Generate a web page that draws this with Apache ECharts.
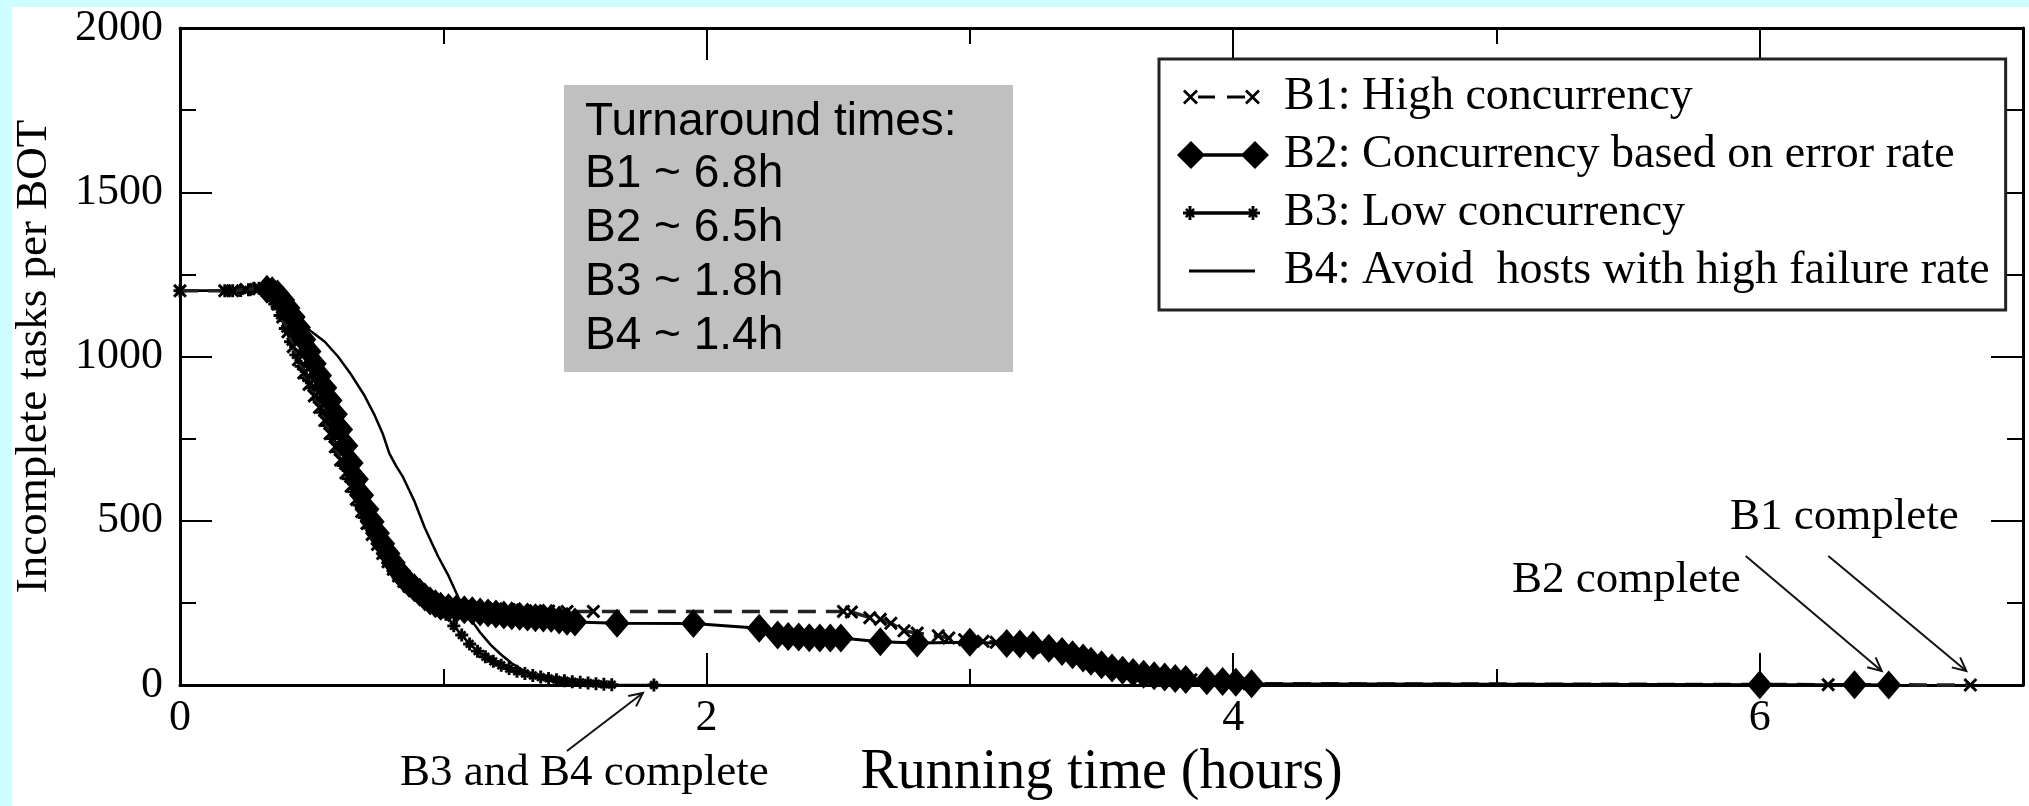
<!DOCTYPE html>
<html><head><meta charset="utf-8">
<script src="https://cdn.jsdelivr.net/npm/echarts@6/dist/echarts.min.js"></script>
<style>html,body{margin:0;padding:0;background:#ccffff}#c{width:2029px;height:806px}</style>
</head><body><div id="c"></div>
<script>
// ---------- data (hours, incomplete tasks) ----------
const legendNames = ['B1: High concurrency', 'B2: Concurrency based on error rate', 'B3: Low concurrency', 'B4: Avoid  hosts with high failure rate'];
const turnaroundLines = ['Turnaround times:', 'B1 ~ 6.8h', 'B2 ~ 6.5h', 'B3 ~ 1.8h', 'B4 ~ 1.4h'];
const xRange = [0, 7];
const yRange = [0, 2000];
const xAxisName = 'Running time (hours)';
const yAxisName = 'Incomplete tasks per BOT';
const annotB3B4 = 'B3 and B4 complete';
const annotB2 = 'B2 complete';
const annotB1 = 'B1 complete';

const b1 = [[0,1200],[0.17,1200],[0.2,1200],[0.25,1204],[0.3,1208],[0.33,1200],[0.35,1185],[0.37,1160],[0.39,1120],[0.41,1075],[0.43,1030],[0.45,990],[0.47,950],[0.49,915],[0.51,880],[0.53,845],[0.55,805],[0.57,765],[0.59,725],[0.61,685],[0.63,645],[0.65,605],[0.67,565],[0.69,528],[0.71,492],[0.73,458],[0.75,428],[0.77,400],[0.79,375],[0.81,352],[0.83,332],[0.85,315],[0.87,300],[0.89,288],[0.91,276],[0.93,265],[0.95,256],[0.97,250],[0.99,246],[1.02,243],[1.05,240],[1.08,238],[1.12,236],[1.16,234],[1.2,232],[1.25,230],[1.3,228],[1.35,226],[1.4,225],[1.47,224],[1.57,224],[2.52,224],[2.55,222],[2.62,205],[2.66,200],[2.7,188],[2.75,165],[2.8,158],[2.88,150],[2.92,143],[2.98,138],[3.05,133],[3.1,130],[3.2,125],[3.28,114],[3.36,100],[3.44,80],[3.52,58],[3.6,42],[3.68,30],[3.76,22],[3.84,16],[3.92,12],[4.0,9],[4.06,4],[6.26,1],[6.8,0]];

const b2 = [[0.33,1205],[0.35,1200],[0.37,1190],[0.39,1172],[0.41,1148],[0.43,1120],[0.45,1088],[0.47,1052],[0.49,1015],[0.51,978],[0.53,942],[0.55,905],[0.57,866],[0.59,824],[0.61,778],[0.63,728],[0.65,676],[0.67,626],[0.69,578],[0.71,535],[0.73,497],[0.75,462],[0.77,430],[0.79,400],[0.81,372],[0.83,347],[0.85,326],[0.87,310],[0.89,296],[0.91,282],[0.93,268],[0.95,256],[0.97,247],[0.99,240],[1.02,235],[1.05,232],[1.08,229],[1.11,226],[1.14,222],[1.17,219],[1.2,216],[1.23,213],[1.26,211],[1.29,209],[1.32,207],[1.35,205],[1.38,204],[1.41,203],[1.44,198],[1.47,194],[1.5,192],[1.66,188],[1.95,187],[2.2,173],[2.27,152],[2.31,148],[2.35,146],[2.39,144],[2.43,143],[2.47,143],[2.51,143],[2.66,132],[2.8,128],[3.0,130],[3.14,126],[3.19,125],[3.24,121],[3.3,112],[3.35,102],[3.39,92],[3.43,82],[3.46,72],[3.5,62],[3.54,52],[3.58,45],[3.62,38],[3.66,33],[3.7,28],[3.74,24],[3.78,20],[3.82,17],[3.9,13],[3.96,11],[4.01,8],[4.07,4],[6.0,1],[6.36,0.5],[6.49,0]];

const b3 = [[0,1200],[0.17,1200],[0.2,1200],[0.23,1201],[0.26,1203],[0.28,1206],[0.3,1208],[0.32,1200],[0.34,1185],[0.36,1160],[0.38,1125],[0.4,1085],[0.42,1045],[0.44,1005],[0.46,970],[0.48,935],[0.5,905],[0.52,870],[0.54,830],[0.56,790],[0.58,750],[0.6,710],[0.62,668],[0.64,628],[0.66,588],[0.68,548],[0.7,510],[0.72,478],[0.74,448],[0.76,420],[0.78,395],[0.8,370],[0.83,340],[0.86,312],[0.89,290],[0.92,270],[0.95,252],[0.98,236],[1.01,215],[1.04,180],[1.07,152],[1.1,125],[1.13,103],[1.16,86],[1.19,72],[1.22,60],[1.25,50],[1.28,42],[1.31,35],[1.34,29],[1.37,24],[1.4,20],[1.43,16],[1.46,13],[1.49,10],[1.52,8],[1.55,6],[1.58,4],[1.61,2],[1.64,1],[1.8,0]];

const b4 = [[0,1200],[0.3,1200],[0.35,1190],[0.4,1150],[0.45,1110],[0.5,1075],[0.55,1045],[0.6,1000],[0.65,945],[0.7,882],[0.74,820],[0.77,765],[0.795,705],[0.82,668],[0.845,636],[0.89,560],[0.93,478],[0.98,392],[1.02,332],[1.06,262],[1.1,205],[1.14,160],[1.18,122],[1.22,92],[1.26,66],[1.3,46],[1.35,28],[1.4,15],[1.45,6],[1.5,2],[1.56,0]];

// ---------- symbol shapes ----------
function xMark(cx, cy, s, t) {
  const p = [[cx-s,cy-s+t],[cx-s+t,cy-s],[cx,cy-t],[cx+s-t,cy-s],[cx+s,cy-s+t],[cx+t,cy],[cx+s,cy+s-t],[cx+s-t,cy+s],[cx,cy+t],[cx-s+t,cy+s],[cx-s,cy+s-t],[cx-t,cy]];
  return 'M' + p.map(q => q[0].toFixed(2) + ',' + q[1].toFixed(2)).join('L') + 'Z';
}
function plusMark(cx, cy, s, t) {
  const p = [[cx-t,cy-s],[cx+t,cy-s],[cx+t,cy-t],[cx+s,cy-t],[cx+s,cy+t],[cx+t,cy+t],[cx+t,cy+s],[cx-t,cy+s],[cx-t,cy+t],[cx-s,cy+t],[cx-s,cy-t],[cx-t,cy-t]];
  return 'M' + p.map(q => q[0].toFixed(2) + ',' + q[1].toFixed(2)).join('L') + 'Z';
}
function star(cx, cy, s, t) { return xMark(cx, cy, s * 0.72, t) + ' ' + plusMark(cx, cy, s, t * 0.8); }
function diamondP(cx, cy, w, h) { return `M${cx},${cy-h/2}L${cx+w/2},${cy}L${cx},${cy+h/2}L${cx-w/2},${cy}Z`; }
function bar(x1, x2, cy, th) { return `M${x1},${cy-th/2}L${x2},${cy-th/2}L${x2},${cy+th/2}L${x1},${cy+th/2}Z`; }
const speck = ' M0,0L0.01,0L0.01,0.01L0,0.01Z M102,30L102.01,30L102.01,30.01L102,30.01Z';

const xSym = 'path://' + xMark(5, 5, 5, 1.5);
const starSym = 'path://' + star(5, 5, 5, 1.4);

const legendIcons = [
  xMark(13.5, 15, 7.5, 1.9) + ' ' + bar(21, 38, 15, 3) + ' ' + bar(50, 68, 15, 3) + ' ' + xMark(75.5, 15, 7.5, 1.9) + speck,
  diamondP(14, 15, 28, 28) + ' ' + bar(14, 78, 15, 3.5) + ' ' + diamondP(78, 15, 28, 28) + speck,
  star(13, 15, 7, 1.8) + ' ' + bar(13, 76, 15, 3.5) + ' ' + star(76, 15, 7, 1.8) + speck,
  bar(12, 78, 15, 3) + speck
];

const serif = 'Liberation Serif';
const tickStyle = { color: '#000', width: 2 };
const axisLineStyle = { show: true, onZero: false, lineStyle: { color: '#000', width: 3 } };

const chart = echarts.init(document.getElementById('c'));
chart.setOption({
  animation: false,
  backgroundColor: '#ccffff',
  color: ['#000'],
  grid: { left: 180, right: 6, top: 28, bottom: 119 },
  legend: {
    orient: 'vertical', left: 1159, top: 59, padding: [15, 16, 16, 18],
    itemWidth: 102, itemHeight: 30, itemGap: 12,
    borderColor: '#222', borderWidth: 3, backgroundColor: '#fff',
    itemStyle: { borderWidth: 0 },
    selectedMode: false,
    textStyle: { fontFamily: serif, fontSize: 46, color: '#000' },
    data: legendNames.map((n, i) => ({ name: n, icon: 'path://' + legendIcons[i] }))
  },
  xAxis: [
    { type: 'value', position: 'bottom', min: xRange[0], max: xRange[1], interval: 2,
      axisLine: axisLineStyle, splitLine: { show: false },
      axisTick: { inside: true, length: 32, lineStyle: tickStyle },
      axisLabel: { fontFamily: serif, fontSize: 44, color: '#000', margin: 11, showMaxLabel: false, formatter: v => String(v) },
      name: xAxisName, nameLocation: 'middle', nameGap: 60,
      nameTextStyle: { fontFamily: serif, fontSize: 56, color: '#000' } },
    { type: 'value', position: 'top', min: xRange[0], max: xRange[1], interval: 2,
      axisLine: axisLineStyle, splitLine: { show: false },
      axisTick: { inside: true, length: 32, lineStyle: tickStyle }, axisLabel: { show: false } },
    { type: 'value', position: 'bottom', min: xRange[0], max: xRange[1], interval: 1,
      axisLine: { show: false, onZero: false }, splitLine: { show: false },
      axisTick: { inside: true, length: 16, lineStyle: tickStyle }, axisLabel: { show: false } },
    { type: 'value', position: 'top', min: xRange[0], max: xRange[1], interval: 1,
      axisLine: { show: false, onZero: false }, splitLine: { show: false },
      axisTick: { inside: true, length: 16, lineStyle: tickStyle }, axisLabel: { show: false } }
  ],
  yAxis: [
    { type: 'value', position: 'left', min: yRange[0], max: yRange[1], interval: 500,
      axisLine: axisLineStyle, splitLine: { show: false },
      axisTick: { inside: true, length: 32, lineStyle: tickStyle },
      minorTick: { show: true, splitNumber: 2, length: 16, lineStyle: tickStyle },
      axisLabel: { fontFamily: serif, fontSize: 44, color: '#000', margin: 17, formatter: v => String(v) },
      name: yAxisName, nameLocation: 'middle', nameGap: 123, nameRotate: 90,
      nameTextStyle: { fontFamily: serif, fontSize: 45, color: '#000' } },
    { type: 'value', position: 'right', min: yRange[0], max: yRange[1], interval: 500,
      axisLine: axisLineStyle, splitLine: { show: false },
      axisTick: { inside: true, length: 32, lineStyle: tickStyle },
      minorTick: { show: true, splitNumber: 2, length: 16, lineStyle: tickStyle },
      axisLabel: { show: false } }
  ],
  series: [
    { name: legendNames[3], type: 'line', data: b4, symbol: 'none', clip: false, z: 2,
      lineStyle: { color: '#000', width: 2.5 }, itemStyle: { color: '#000' } },
    { name: legendNames[2], type: 'line', data: b3, symbol: starSym, symbolSize: 13, showAllSymbol: true, clip: false, z: 3,
      lineStyle: { color: '#000', width: 2.5 }, itemStyle: { color: '#000' } },
    { name: legendNames[0], type: 'line', data: b1, symbol: xSym, symbolSize: 14, showAllSymbol: true, clip: false, z: 4,
      lineStyle: { color: '#222', width: 3.5, type: [18, 10] }, itemStyle: { color: '#000' } },
    { name: legendNames[1], type: 'line', data: b2, symbol: 'diamond', symbolSize: [25, 29], showAllSymbol: true, clip: false, z: 5,
      lineStyle: { color: '#000', width: 3 }, itemStyle: { color: '#000' } }
  ]
});

// ---------- annotations placed from data coordinates ----------
function px(pt) { return chart.convertToPixel({ xAxisIndex: 0, yAxisIndex: 0 }, pt); }
function arrow(tip, tail) {
  const dx = tip[0] - tail[0], dy = tip[1] - tail[1];
  const L = Math.hypot(dx, dy), ux = dx / L, uy = dy / L;
  const a = 0.45, len = 15;
  const c = Math.cos(a), s = Math.sin(a);
  const l1 = [tip[0] - len * (ux * c - uy * s), tip[1] - len * (uy * c + ux * s)];
  const l2 = [tip[0] - len * (ux * c + uy * s), tip[1] - len * (uy * c - ux * s)];
  return [
    { type: 'line', z: 20, silent: true, shape: { x1: tail[0], y1: tail[1], x2: tip[0], y2: tip[1] }, style: { stroke: '#111', lineWidth: 2 } },
    { type: 'polyline', z: 20, silent: true, shape: { points: [l1, tip, l2] }, style: { stroke: '#111', lineWidth: 2, fill: null } }
  ];
}
const endB3 = px(b3[b3.length - 1]);
const endB2 = px(b2[b2.length - 1]);
const endB1 = px(b1[b1.length - 1]);

const g = [];
g.push({ type: 'rect', z: -10, silent: true, shape: { x: 12, y: 7, width: 2017, height: 799 }, style: { fill: '#fff' } });
g.push({ type: 'rect', z: 10, silent: true, shape: { x: 564, y: 85, width: 449, height: 287 }, style: { fill: '#c0c0c0' } });
const capCenters = [122, 174, 228, 282, 336];
turnaroundLines.forEach((t, i) => {
  g.push({ type: 'text', z: 11, silent: true, style: { text: t, x: 585, y: capCenters[i], fontFamily: 'Liberation Sans', fontSize: 46, fill: '#000', align: 'left', verticalAlign: 'middle' } });
});
g.push({ type: 'text', z: 11, silent: true, style: { text: annotB3B4, x: 400, y: 773, fontFamily: serif, fontSize: 45, fill: '#000', align: 'left', verticalAlign: 'middle' } });
g.push({ type: 'text', z: 11, silent: true, style: { text: annotB2, x: 1512, y: 580, fontFamily: serif, fontSize: 45, fill: '#000', align: 'left', verticalAlign: 'middle' } });
g.push({ type: 'text', z: 11, silent: true, style: { text: annotB1, x: 1730, y: 517, fontFamily: serif, fontSize: 45, fill: '#000', align: 'left', verticalAlign: 'middle' } });
g.push(...arrow([endB3[0] - 11, endB3[1] + 8], [endB3[0] - 87, endB3[1] + 66]));
g.push(...arrow([endB2[0] - 7, endB2[1] - 14], [endB2[0] - 143, endB2[1] - 129]));
g.push(...arrow([endB1[0] - 4, endB1[1] - 14], [endB1[0] - 142, endB1[1] - 129]));
chart.setOption({ graphic: g });
</script></body></html>
